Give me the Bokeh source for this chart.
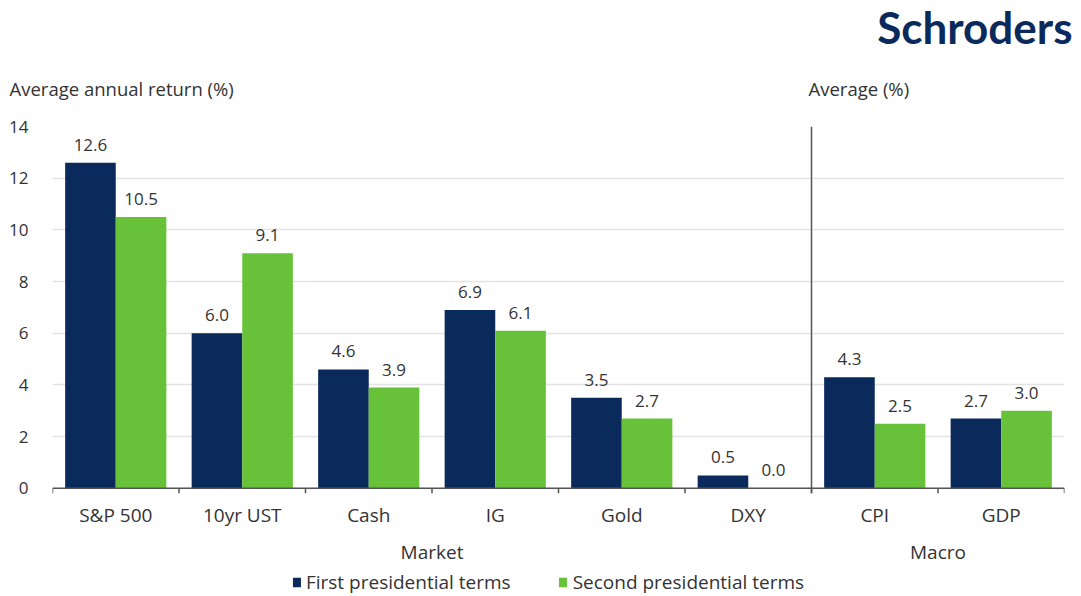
from bokeh.plotting import figure
from bokeh.models import (ColumnDataSource, FactorRange, LabelSet, Legend, LegendItem,
                          FixedTicker, Span, Range1d)
from bokeh.layouts import column
from bokeh.core.properties import value
from bokeh.transform import dodge
from bokeh.embed import file_html
from bokeh.resources import INLINE

groups = ["Market"] * 6 + ["Macro"] * 2
categories = ["S&P 500", "10yr UST", "Cash", "IG", "Gold", "DXY", "CPI", "GDP"]
first_terms = [12.6, 6.0, 4.6, 6.9, 3.5, 0.5, 4.3, 2.7]
second_terms = [10.5, 9.1, 3.9, 6.1, 2.7, 0.0, 2.5, 3.0]
series_names = ["First presidential terms", "Second presidential terms"]
y_ticks = [0, 2, 4, 6, 8, 10, 12, 14]
left_title = "Average annual return (%)"
right_title = "Average (%)"
brand = "Schroders"

NAVY = "#0b2a5c"
GREEN = "#67c23a"
TXT = "#333333"
FONT = "Open Sans"
W = 1081
TOP_H = 116
MAIN_H = 451
LEG_H = 596 - TOP_H - MAIN_H


def no_align(fig):
    try:
        fig.frame_align = False
    except Exception:
        pass


factors = list(zip(groups, categories))
src = ColumnDataSource(dict(
    x=factors,
    first=first_terms,
    second=second_terms,
    first_lbl=[f"{v:.1f}" for v in first_terms],
    second_lbl=[f"{v:.1f}" for v in second_terms],
))

# ---------- header (logo + axis titles) ----------
top = figure(width=W, height=TOP_H, x_range=Range1d(0, W), y_range=Range1d(TOP_H, 0),
             output_backend="svg", toolbar_location=None,
             min_border=0, min_border_left=0, min_border_right=0,
             min_border_top=0, min_border_bottom=0)
no_align(top)
top.axis.visible = False
top.grid.visible = False
top.outline_line_color = None
top.text(x=[9, 808], y=[88, 88], text=[left_title, right_title],
         text_font=value(FONT), text_font_size="18.5px", text_color=TXT,
         text_baseline="middle", text_align="left")
top.text(x=[1072], y=[26], text=[brand], text_font=value("Lato"), text_font_size="44px",
         text_font_style="bold", text_color=NAVY, text_align="right",
         text_baseline="alphabetic")

# ---------- main chart ----------
xr = FactorRange(*factors, group_padding=0, factor_padding=0, range_padding=0)
p = figure(x_range=xr, y_range=(-0.2, 14), width=W, height=MAIN_H,
           output_backend="svg", toolbar_location=None,
           min_border_left=52, min_border_right=17, min_border_top=10, min_border_bottom=74)
no_align(p)
p.outline_line_color = None

r1 = p.vbar(x=dodge("x", -0.2, range=xr), top="first", width=0.4, source=src,
            fill_color=NAVY, line_color=None)
r2 = p.vbar(x=dodge("x", 0.2, range=xr), top="second", width=0.4, source=src,
            fill_color=GREEN, line_color=None)

for col, off in (("first", -0.2), ("second", 0.2)):
    p.add_layout(LabelSet(x=dodge("x", off, range=xr), y=col, text=col + "_lbl", source=src,
                          text_align="center", text_baseline="middle", y_offset=18,
                          text_font=value(FONT), text_font_size="17px", text_color=TXT))

p.yaxis.ticker = FixedTicker(ticks=y_ticks)
p.yaxis.axis_line_color = None
p.yaxis.major_tick_line_color = None
p.yaxis.minor_tick_line_color = None
p.yaxis.major_label_standoff = 18
p.yaxis.major_label_text_font = FONT
p.yaxis.major_label_text_font_size = "17px"
p.yaxis.major_label_text_color = TXT

p.ygrid.grid_line_color = "#e3e3e3"
p.ygrid.grid_line_width = 1.5
p.xgrid.grid_line_color = None

xa = p.xaxis[0]
xa.axis_line_color = None
xa.major_tick_line_color = None
xa.major_tick_out = 0
xa.major_tick_in = 0
xa.major_label_standoff = 8
xa.major_label_text_font = FONT
xa.major_label_text_font_size = "19px"
xa.major_label_text_color = TXT
xa.group_text_font = FONT
xa.group_text_font_size = "19px"
xa.group_text_font_style = "normal"
xa.group_text_color = TXT
try:
    xa.separator_line_color = None
except Exception:
    pass

n = len(categories)
p.add_layout(Span(location=0, dimension="width", line_color="#555555", line_width=1.5))
p.segment(x0=list(range(n + 1)), x1=list(range(n + 1)), y0=[0] * (n + 1), y1=[-0.2] * (n + 1),
          line_color="#555555", line_width=1.5)
sep = groups.index("Macro")
p.segment(x0=[sep], x1=[sep], y0=[14], y1=[-0.2], line_color="#555555", line_width=1.5)

# ---------- legend strip ----------
leg = figure(width=W, height=LEG_H, x_range=xr, y_range=Range1d(100, 101),
             output_backend="svg", toolbar_location=None,
             min_border=0, min_border_left=14, min_border_right=0,
             min_border_top=0, min_border_bottom=0)
no_align(leg)
leg.axis.visible = False
leg.grid.visible = False
leg.outline_line_color = None
l1 = leg.vbar(x=dodge("x", -0.2, range=xr), top="first", width=0.4, source=src,
              fill_color=NAVY, line_color=None)
l2 = leg.vbar(x=dodge("x", 0.2, range=xr), top="second", width=0.4, source=src,
              fill_color=GREEN, line_color=None)
legend = Legend(items=[LegendItem(label=series_names[0], renderers=[l1]),
                       LegendItem(label=series_names[1], renderers=[l2])],
                location="center", orientation="horizontal",
                label_text_font=FONT, label_text_font_size="19px", label_text_color=TXT,
                glyph_width=10, glyph_height=12, label_standoff=5, spacing=47,
                padding=0, margin=0, border_line_color=None, background_fill_alpha=0)
leg.add_layout(legend, "center")

layout = column(top, p, leg, spacing=0)
open("out.html", "w").write(file_html(layout, INLINE))
